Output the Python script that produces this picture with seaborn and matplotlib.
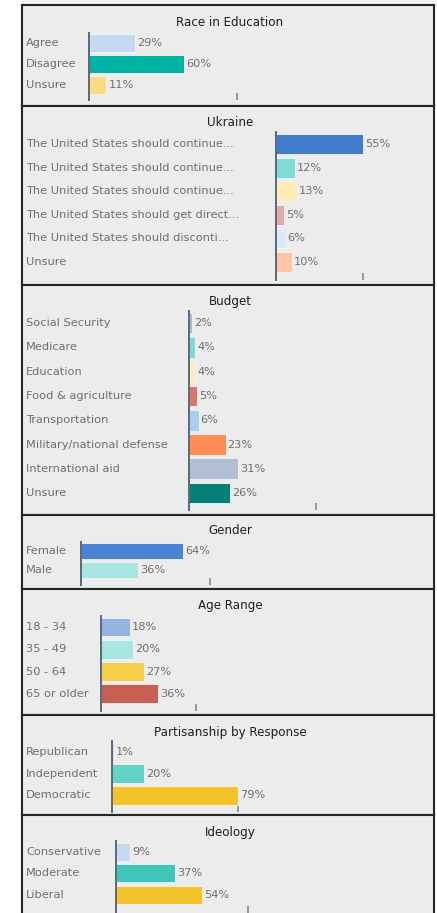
import matplotlib
matplotlib.use("Agg")
import matplotlib.pyplot as plt
import matplotlib.transforms as mtransforms
import seaborn as sns
import pandas as pd

# ---- survey results -------------------------------------------------------
race_labels = ["Agree", "Disagree", "Unsure"]
race_values = [29, 60, 11]
race_colors = ["#c6d9f0", "#00b4a4", "#fbdc86"]

ukraine_labels = [
    "The United States should continue...",
    "The United States should continue...",
    "The United States should continue...",
    "The United States should get direct...",
    "The United States should disconti...",
    "Unsure",
]
ukraine_values = [55, 12, 13, 5, 6, 10]
ukraine_colors = ["#3f7ccc", "#7fdcd3", "#fdecba", "#e4aaa6", "#dde9f8", "#fec4a6"]

budget_labels = [
    "Social Security", "Medicare", "Education", "Food & agriculture",
    "Transportation", "Military/national defense", "International aid", "Unsure",
]
budget_values = [2, 4, 4, 5, 6, 23, 31, 26]
budget_colors = ["#aabbd6", "#7fdcd3", "#fdecba", "#d7776c",
                 "#a9cdf5", "#ff8c55", "#b0bfd3", "#067f74"]

gender_labels = ["Female", "Male"]
gender_values = [64, 36]
gender_colors = ["#4a83d4", "#a8e5e1"]

age_labels = ["18 - 34", "35 - 49", "50 - 64", "65 or older"]
age_values = [18, 20, 27, 36]
age_colors = ["#94b5e1", "#a8e6e2", "#f8cf4b", "#c95f50"]

party_labels = ["Republican", "Independent", "Democratic"]
party_values = [1, 20, 79]
party_colors = ["#c6d9f0", "#63d3c8", "#f4c22b"]

ideology_labels = ["Conservative", "Moderate", "Liberal"]
ideology_values = [9, 37, 54]
ideology_colors = ["#c6d9f0", "#3fc6bb", "#f4c22b"]

# ---- page layout (pixels) -------------------------------------------------
W, H = 437, 913
PX_PER_PCT = 1.59
PANEL_LEFT, PANEL_RIGHT = 22, 434
LABEL_X = 26
TITLE_X = 230

panels = [
    dict(title="Race in Education", labels=race_labels, values=race_values, colors=race_colors,
         top=5, bottom=106, title_y=22, axis_x=89, row0=43, pitch=21.0, axis_bottom=100, tick=93),
    dict(title="Ukraine", labels=ukraine_labels, values=ukraine_values, colors=ukraine_colors,
         top=106, bottom=285, title_y=122, axis_x=276, row0=144, pitch=23.6, axis_bottom=280, tick=55),
    dict(title="Budget", labels=budget_labels, values=budget_values, colors=budget_colors,
         top=285, bottom=515, title_y=301, axis_x=189, row0=323, pitch=24.3, axis_bottom=510, tick=80),
    dict(title="Gender", labels=gender_labels, values=gender_values, colors=gender_colors,
         top=515, bottom=589, title_y=530, axis_x=81, row0=551, pitch=18.7, axis_bottom=585, tick=81),
    dict(title="Age Range", labels=age_labels, values=age_values, colors=age_colors,
         top=589, bottom=715, title_y=605, axis_x=101, row0=627, pitch=22.3, axis_bottom=711, tick=60),
    dict(title="Partisanship by Response", labels=party_labels, values=party_values, colors=party_colors,
         top=715, bottom=815, title_y=732, axis_x=112, row0=752, pitch=21.7, axis_bottom=812, tick=79),
    dict(title="Ideology", labels=ideology_labels, values=ideology_values, colors=ideology_colors,
         top=815, bottom=916, title_y=832, axis_x=116, row0=852, pitch=21.3, axis_bottom=913, tick=83),
]

sns.set_theme(style="white")
plt.rcParams["font.family"] = ["DejaVu Sans"]

LABEL_COLOR = "#6f6f6f"
FS = 8.2


def fx(px):
    return px / W


def fy(py):
    return 1 - py / H


fig = plt.figure(figsize=(W / 100, H / 100), dpi=100)
fig.patch.set_facecolor("white")
# light strip along the top edge
fig.add_artist(plt.Rectangle((fx(PANEL_LEFT), fy(5)), 1 - fx(PANEL_LEFT), 5 / H,
                             transform=fig.transFigure, color="#f3f3f3", zorder=-1))

for p in panels:
    # framed grey card
    card = fig.add_axes([fx(PANEL_LEFT), fy(p["bottom"]),
                         fx(PANEL_RIGHT) - fx(PANEL_LEFT), (p["bottom"] - p["top"]) / H])
    card.set_facecolor("#ececec")
    card.set_xticks([])
    card.set_yticks([])
    for s in card.spines.values():
        s.set_color("#262626")
        s.set_linewidth(1.5)
    card.set_zorder(0)

    fig.text(fx(TITLE_X), fy(p["title_y"]), p["title"], ha="center", va="center",
             fontsize=8.6, color="#1e1e1e")

    n = len(p["values"])
    band_top = p["row0"] - p["pitch"] / 2
    ax = fig.add_axes([fx(p["axis_x"]), fy(p["axis_bottom"]),
                       fx(PANEL_RIGHT - 2) - fx(p["axis_x"]), (p["axis_bottom"] - band_top) / H])
    ax.set_zorder(1)
    ax.patch.set_alpha(0)

    keys = [str(i) for i in range(n)]
    df = pd.DataFrame({"key": keys, "value": p["values"]})
    sns.barplot(data=df, x="value", y="key", hue="key", order=keys, hue_order=keys,
                palette=dict(zip(keys, p["colors"])), orient="h", width=0.85,
                saturation=1, legend=False, ax=ax, edgecolor="#f4f4f4", linewidth=0.6)

    for c in ax.containers:
        ax.bar_label(c, fmt="%g%%", padding=1.5, fontsize=FS, color=LABEL_COLOR)

    extra = (p["axis_bottom"] - (p["row0"] + (n - 0.5) * p["pitch"])) / p["pitch"]
    ax.set_ylim(n - 0.5 + extra, -0.5)
    ax.set_xlim(0, (PANEL_RIGHT - 2 - p["axis_x"]) / PX_PER_PCT)

    # category names, left aligned inside the card
    trans = mtransforms.blended_transform_factory(fig.transFigure, ax.transData)
    for i, lab in enumerate(p["labels"]):
        ax.text(fx(LABEL_X), i, lab, transform=trans, ha="left", va="center",
                fontsize=FS, color=LABEL_COLOR, clip_on=False)

    ax.set_xlabel("")
    ax.set_ylabel("")
    ax.set_yticks([])
    ax.set_xticks([p["tick"]])
    ax.tick_params(axis="x", direction="in", length=5, width=1.2, colors="#8a8a8a",
                   labelbottom=False, bottom=True)
    for side in ("top", "right", "bottom"):
        ax.spines[side].set_visible(False)
    ax.spines["left"].set_color("#5a6878")
    ax.spines["left"].set_linewidth(1.4)

fig.savefig("out.png", dpi=100)
